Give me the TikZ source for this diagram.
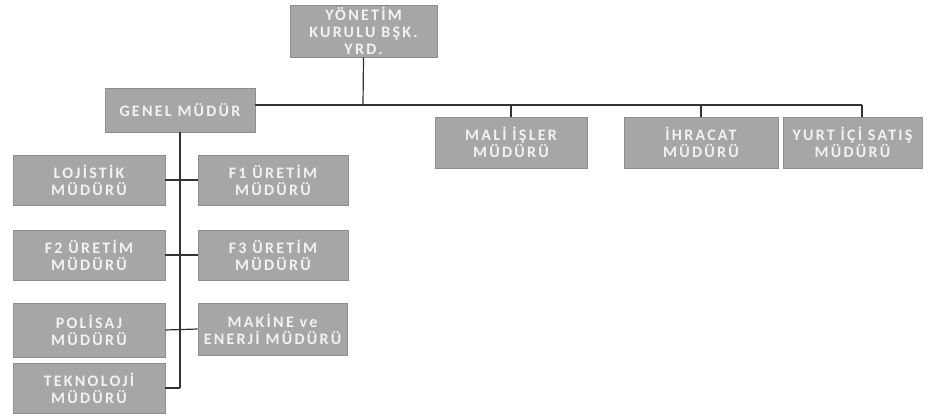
\documentclass[tikz,border=0pt]{standalone}
\usepackage{fontspec}
\setmainfont[LetterSpace=14]{Carlito}
\begin{document}
\begin{tikzpicture}[x=1pt,y=-1pt,
  box/.style={rectangle, draw=boxline, line width=0.6pt, fill=boxfill, text=boxtext,
    align=center, inner sep=0pt, font=\bfseries\fontsize{16}{17}\selectfont},
  conn/.style={draw=lineclr, line width=1.2pt}]
\definecolor{boxfill}{HTML}{A6A6A6}
\definecolor{boxline}{HTML}{8E8E8E}
\definecolor{boxtext}{HTML}{F2F2F2}
\definecolor{lineclr}{HTML}{333333}
\useasboundingbox (0,0) rectangle (931,417);
\fill[white] (0,0) rectangle (931,417);
% nodes
\node[box, minimum width=147, minimum height=52] (top) at (363.5,31) {YÖNETİM\\KURULU BŞK.\\YRD.};
\node[box, minimum width=150, minimum height=44] (genel) at (180,110) {GENEL MÜDÜR};
\node[box, minimum width=152, minimum height=51] (mali) at (511,142.5) {MALİ İŞLER\\MÜDÜRÜ};
\node[box, minimum width=154, minimum height=51] (ihr) at (701,142.5) {İHRACAT\\MÜDÜRÜ};
\node[box, minimum width=139, minimum height=51] (yurt) at (852.5,142.5) {YURT İÇİ SATIŞ\\MÜDÜRÜ};
\node[box, minimum width=152, minimum height=50] (loj) at (89,180) {LOJİSTİK\\MÜDÜRÜ};
\node[box, minimum width=150, minimum height=50] (f1) at (273,180) {F1 ÜRETİM\\MÜDÜRÜ};
\node[box, minimum width=152, minimum height=50] (f2) at (89,255) {F2 ÜRETİM\\MÜDÜRÜ};
\node[box, minimum width=150, minimum height=50] (f3) at (273,255) {F3 ÜRETİM\\MÜDÜRÜ};
\node[box, minimum width=152, minimum height=54] (pol) at (89,330) {POLİSAJ\\MÜDÜRÜ};
\node[box, minimum width=149, minimum height=52] (mak) at (272.5,329) {MAKİNE ve\\ENERJİ MÜDÜRÜ};
\node[box, minimum width=152, minimum height=50] (tek) at (89,388) {TEKNOLOJİ\\MÜDÜRÜ};
% coordinates
\coordinate (hy) at (363,105);
\coordinate (yj) at (862,105);
\coordinate (trunkend) at (180,388);
% connectors
\draw[conn] (top.south) -- (hy);
\draw[conn] (genel.east |- hy) -- (yj);
\draw[conn] (mali.north |- hy) -- (mali.north);
\draw[conn] (ihr.north |- hy) -- (ihr.north);
\draw[conn] (yj) -- (yj |- yurt.north);
\draw[conn] (genel.south) -- (trunkend);
\draw[conn] (loj.east) -- (f1.west);
\draw[conn] (f2.east) -- (f3.west);
\draw[conn] (pol.east) -- (mak.west);
\draw[conn] (tek.east) -- (trunkend);
\end{tikzpicture}
\end{document}
